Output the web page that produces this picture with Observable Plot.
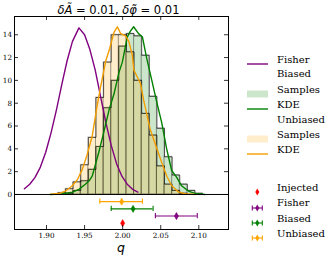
<!DOCTYPE html>
<html><head><meta charset="utf-8">
<script src="https://cdn.jsdelivr.net/npm/d3@7"></script>
<script src="https://cdn.jsdelivr.net/npm/@observablehq/plot@0.6"></script>
<style>
body{margin:0;background:#fff;}
#wrap{position:relative;width:332px;height:257px;overflow:hidden;background:#fff;}
#chart{position:absolute;left:0;top:0;}
#title{position:absolute;left:0;top:3px;width:237px;text-align:center;font-family:"DejaVu Sans";font-size:11.5px;line-height:14px;white-space:nowrap;}
#xlabel{position:absolute;left:0;top:240px;width:242px;text-align:center;font-family:"DejaVu Sans";font-style:italic;font-size:12.5px;line-height:15px;}
.lg{position:absolute;font-family:"DejaVu Serif";font-size:10px;line-height:12px;white-space:nowrap;}
.lh{position:absolute;}
</style></head><body>
<div id="wrap"><div id="chart"></div>
<div id="title"><i>δÃ</i> = 0.01, <i>δφ̃</i> = 0.01</div>
<div id="xlabel">q</div>
<div id="legend"></div>
</div>
<script>
// ---- data ----
const binEdges = [1.915,1.925,1.935,1.945,1.955,1.965,1.975,1.985,1.995,2.005,2.015,2.025,2.035,2.045,2.055,2.065,2.075,2.085,2.095,2.105];
const biasedHeights   = [0,0.1,0.35,1.2,2.2,4.2,7.6,10.0,13.0,14.1,13.9,12.2,8.6,5.8,3.3,1.7,0.9,0.35,0.1];
const unbiasedHeights = [0.15,0.5,1.1,2.6,5.0,8.5,11.6,14.0,14.0,12.5,10.0,7.1,5.2,2.5,0.9,0.35,0.1,0,0];

const fisherQ       = [1.871,1.878,1.885,1.892,1.899,1.906,1.913,1.920,1.927,1.934,1.9426,1.950,1.957,1.964,1.971,1.978,1.985,1.992,1.999,2.006,2.013,2.020];
const fisherDensity = [0.5,0.9,1.5,2.4,3.7,5.4,7.4,9.6,11.7,13.4,14.6,14.0,12.7,10.9,8.6,6.3,4.3,2.7,1.6,0.9,0.45,0.2];

const biasedKdeQ = [1.905,1.920,1.934,1.9426,1.951,1.956,1.960,1.9687,1.975,1.9821,1.9886,1.9952,1.9996,2.0061,2.010,2.0144,2.0209,2.026,2.0317,2.0383,2.0448,2.0513,2.0578,2.0644,2.071,2.0774,2.0862,2.095,2.108];
const biasedKde  = [0,0.05,0.2,0.45,0.9,1.2,1.6,3.7,5.4,7.4,8.8,10.7,11.6,13.8,14.3,14.7,14.1,13.8,11.9,10.0,8.1,6.3,4.0,2.1,1.5,0.76,0.3,0.1,0];

const unbiasedKdeQ = [1.905,1.916,1.925,1.934,1.941,1.947,1.953,1.960,1.966,1.971,1.9778,1.983,1.9886,1.9931,1.9974,2.0039,2.0082,2.0127,2.0148,2.0192,2.0235,2.0278,2.0362,2.045,2.0513,2.058,2.0644,2.073,2.082,2.095];
const unbiasedKde  = [0.02,0.08,0.3,0.76,1.35,2.2,3.4,5.1,7.6,9.4,11.7,12.8,14.2,14.7,14.1,13.9,13.4,12.2,10.9,10.3,9.7,8.2,5.7,4.0,2.8,1.6,0.76,0.23,0.06,0];

const estimateLabels = ["Injected","Fisher","Biased","Unbiased"];
const estimateCenter = [2.000,2.0706,2.0137,1.9987];
const estimateLow    = [null,2.043,1.985,1.970];
const estimateHigh   = [null,2.098,2.040,2.026];
const estimateColors = ["red","#800080","#008000","orange"];

const xTicks = [1.90,1.95,2.00,2.05,2.10];
const yTicks = [0,2,4,6,8,10,12,14];

// ---- build tables ----
const GREEN = "#008000", ORANGE = "orange", PURPLE = "#800080";
const bars = (h) => h.map((v,i)=>({x1:binEdges[i], x2:binEdges[i+1], y:v})).filter(d=>d.y>0);
function stepPts(h){
  let i0 = h.findIndex(v=>v>0), i1 = h.length-1; while(h[i1]===0) i1--;
  const pts=[{x:binEdges[i0],y:0}];
  for(let i=i0;i<=i1;i++) pts.push({x:binEdges[i],y:h[i]});
  pts.push({x:binEdges[i1+1],y:h[i1]});
  pts.push({x:binEdges[i1+1],y:0});
  return pts;
}
const zip = (xs,ys)=>xs.map((x,i)=>({x, y:ys[i]}));

// rows of the lower strip (layout, top to bottom)
const rowOrder = ["Unbiased","Biased","Fisher","Injected"];
const rowY = (lab)=> -(rowOrder.indexOf(lab)+1)*0.63;
const est = estimateLabels.map((l,i)=>({label:l, c:estimateCenter[i], lo:estimateLow[i], hi:estimateHigh[i], color:estimateColors[i], y:rowY(l)}));
const errs = est.filter(d=>d.lo!=null);
const caps = errs.flatMap(d=>[{x:d.lo,y:d.y,color:d.color},{x:d.hi,y:d.y,color:d.color}]);

const xDom=[1.858,2.139], yDom=[-3.07,15.6];
const tkX = 4/761.5, tkY = 4/11.41;

const plot = Plot.plot({
  width:332, height:257, marginLeft:14, marginRight:104, marginTop:16, marginBottom:28,
  style:{fontFamily:"DejaVu Serif", fontSize:"7.2px", background:"white", color:"black"},
  x:{domain:xDom}, y:{domain:yDom},
  marks:[
    Plot.rectY(bars(biasedHeights), {x1:"x1", x2:"x2", y:"y", fill:GREEN, fillOpacity:0.2, stroke:"black", strokeOpacity:0.22}),
    Plot.rectY(bars(unbiasedHeights), {x1:"x1", x2:"x2", y:"y", fill:ORANGE, fillOpacity:0.2, stroke:"black", strokeOpacity:0.22}),
    Plot.line(stepPts(biasedHeights), {x:"x", y:"y", curve:"step-after", stroke:"black", strokeOpacity:0.65, strokeWidth:1}),
    Plot.line(stepPts(unbiasedHeights), {x:"x", y:"y", curve:"step-after", stroke:"black", strokeOpacity:0.65, strokeWidth:1}),
    Plot.line(zip(fisherQ,fisherDensity), {x:"x", y:"y", stroke:PURPLE, strokeWidth:1.4}),
    Plot.line(zip(biasedKdeQ,biasedKde), {x:"x", y:"y", stroke:GREEN, strokeWidth:1.4}),
    Plot.line(zip(unbiasedKdeQ,unbiasedKde), {x:"x", y:"y", stroke:"#f29d00", strokeWidth:1.4}),
    Plot.ruleY([0], {stroke:"black", strokeWidth:1}),
    Plot.ruleY(errs, {x1:"lo", x2:"hi", y:"y", stroke:"color", strokeWidth:1.1}),
    Plot.ruleX(caps, {x:"x", y1:d=>d.y-0.23, y2:d=>d.y+0.23, stroke:"color", strokeWidth:1.1}),
    Plot.dot(est, {x:"c", y:"y", symbol:"diamond", r:2.2, fill:"color", stroke:"color", strokeWidth:0.5}),
    // inward ticks
    Plot.ruleY(yTicks, {x1:xDom[0], x2:xDom[0]+tkX, stroke:"black", strokeWidth:0.8}),
    Plot.ruleY(yTicks, {x1:xDom[1]-tkX, x2:xDom[1], stroke:"black", strokeWidth:0.8}),
    Plot.ruleX(xTicks, {y1:yDom[1]-tkY, y2:yDom[1], stroke:"black", strokeWidth:0.8}),
    Plot.ruleX(xTicks, {y1:yDom[0], y2:yDom[0]+tkY, stroke:"black", strokeWidth:0.8}),
    Plot.axisX({ticks:xTicks, tickSize:0, tickPadding:3.5, tickFormat:d3.format(".2f"), label:null}),
    Plot.axisY({ticks:yTicks, tickSize:0, tickPadding:2.5, label:null}),
    Plot.frame({stroke:"black", strokeWidth:1})
  ]
});
document.getElementById("chart").appendChild(plot);

// ---- legend ----
const lg = document.getElementById("legend");
function addRow(y, handle, text){
  if(handle){
    const h=document.createElement("div"); h.className="lh"; h.style.left="246px"; h.style.top=(y-5)+"px";
    h.innerHTML=`<svg width="24" height="10">${handle}</svg>`; lg.appendChild(h);
  }
  const t=document.createElement("div"); t.className="lg"; t.style.left="277px"; t.style.top=(y-6.5)+"px"; t.textContent=text; lg.appendChild(t);
}
const lineH = c=>`<line x1="1" x2="22" y1="5" y2="5" stroke="${c}" stroke-width="1.4"/>`;
const patchH = (c)=>`<rect x="1" y="1.5" width="21" height="7" fill="${c}" fill-opacity="0.2"/>`;
const diamond = (c)=>`<path d="M11.3,1.6 L13.3,5 L11.3,8.4 L9.3,5 Z" fill="${c}"/>`;
const errH = (c)=>`<line x1="6.3" x2="16.3" y1="5" y2="5" stroke="${c}" stroke-width="1.1"/><line x1="6.3" x2="6.3" y1="2.4" y2="7.6" stroke="${c}" stroke-width="1.1"/><line x1="16.3" x2="16.3" y1="2.4" y2="7.6" stroke="${c}" stroke-width="1.1"/>`+diamond(c);
addRow(60, lineH(PURPLE), "Fisher");
addRow(74, null, "Biased");
addRow(90, patchH(GREEN), "Samples");
addRow(105, lineH(GREEN), "KDE");
addRow(120, null, "Unbiased");
addRow(135, patchH(ORANGE), "Samples");
addRow(150, lineH("#f29d00"), "KDE");
addRow(188.3, diamond("red"), "Injected");
addRow(203.7, errH(PURPLE), "Fisher");
addRow(219, errH(GREEN), "Biased");
addRow(234.2, errH(ORANGE), "Unbiased");
</script>
</body></html>
